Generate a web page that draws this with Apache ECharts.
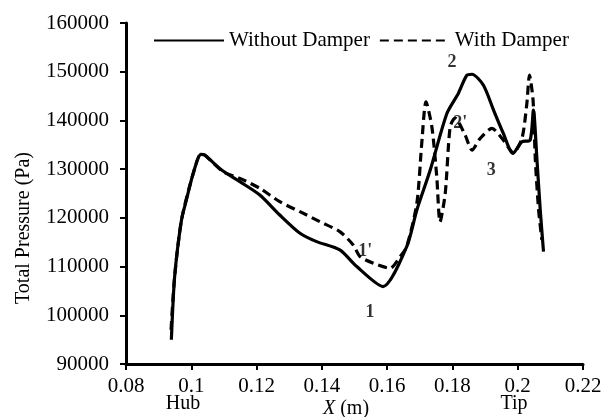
<!DOCTYPE html>
<html>
<head>
<meta charset="utf-8">
<script src="https://cdn.jsdelivr.net/npm/echarts@6/dist/echarts.min.js"></script>
<style>
html,body{margin:0;padding:0;background:#fff;}
#c{width:608px;height:417px;}
</style>
</head>
<body>
<div id="c"></div>
<script>
// Without Damper: [X (m), Total Pressure (Pa)]
const withoutDamper = [
  [0.0939, 94980], [0.0949, 107950], [0.0970, 119570], [0.0985, 123670], [0.1006, 129140],
  [0.1029, 133030], [0.1041, 132890], [0.1093, 129820], [0.1149, 127420], [0.1210, 124690],
  [0.1271, 120590], [0.1333, 116840], [0.1384, 115120], [0.1455, 113420], [0.1507, 110000],
  [0.1587, 105900], [0.1660, 114100], [0.1691, 121620], [0.1732, 129820], [0.1783, 141430],
  [0.1818, 145530], [0.1844, 149280], [0.1860, 149480], [0.1895, 147230], [0.1926, 142110],
  [0.1956, 137330], [0.1985, 133230], [0.2013, 135610], [0.2038, 135960], [0.2048, 142110],
  [0.2059, 131870], [0.2069, 121620], [0.2079, 113070]
];
// With Damper
const withDamper = [
  [0.0938, 97030], [0.0949, 107950], [0.0970, 119570], [0.1006, 129140], [0.1029, 133030],
  [0.1041, 132890], [0.1098, 129460], [0.1149, 128110], [0.1210, 126060], [0.1271, 123320],
  [0.1333, 121270], [0.1394, 119220], [0.1455, 117170], [0.1496, 114450], [0.1517, 112050],
  [0.1558, 110690], [0.1609, 109670], [0.1640, 112050], [0.1660, 114100], [0.1691, 122990],
  [0.1706, 135280], [0.1719, 143810], [0.1737, 138690], [0.1752, 128440], [0.1762, 119160],
  [0.1778, 125040], [0.1793, 138690], [0.1808, 140470], [0.1839, 136980], [0.1860, 133900],
  [0.1885, 136310], [0.1921, 138360], [0.1952, 136310], [0.1987, 133400], [0.2013, 136310],
  [0.2028, 143480], [0.2036, 149280], [0.2047, 144160], [0.2054, 131870], [0.2064, 121620],
  [0.2074, 115470]
];
// Point annotations [X, P, label]
const annotations = [
  [0.15475, 100510, '1'],
  [0.1533, 113220, "1'"],
  [0.1799, 151940, '2'],
  [0.1824, 139440, "2'"],
  [0.1919, 129810, '3']
];
const seriesNames = ['Without Damper', 'With Damper'];
const xTicks = {min: 0.08, max: 0.22, interval: 0.02};
const yTicks = {min: 90000, max: 160000, interval: 10000};

const FONT = '"Liberation Serif", "Times New Roman", serif';
const chart = echarts.init(document.getElementById('c'), null, {renderer: 'canvas'});
chart.setOption({
  animation: false,
  backgroundColor: '#fff',
  textStyle: {fontFamily: FONT, color: '#000'},
  grid: {left: 126, right: 25, top: 23, bottom: 53, containLabel: false},
  legend: {
    data: seriesNames,
    left: 148, top: 25,
    itemWidth: 70, itemHeight: 14, itemGap: 9,
    itemStyle: {opacity: 0},
    textStyle: {fontFamily: FONT, fontSize: 21, color: '#000'}
  },
  xAxis: {
    type: 'value', min: xTicks.min, max: xTicks.max, interval: xTicks.interval,
    axisLine: {show: true, onZero: false, lineStyle: {color: '#000', width: 3}},
    axisTick: {show: true, inside: false, length: 6, lineStyle: {color: '#000', width: 2}},
    axisLabel: {fontFamily: FONT, fontSize: 21, color: '#000', margin: 12,
      formatter: v => String(Math.round(v * 100) / 100)},
    splitLine: {show: false}
  },
  yAxis: {
    type: 'value', min: yTicks.min, max: yTicks.max, interval: yTicks.interval,
    axisLine: {show: true, onZero: false, lineStyle: {color: '#000', width: 3}},
    axisTick: {show: true, inside: false, length: 6, lineStyle: {color: '#000', width: 2}},
    axisLabel: {fontFamily: FONT, fontSize: 21, color: '#000', margin: 17,
      formatter: v => String(Math.round(v))},
    splitLine: {show: false}
  },
  series: [
    {
      name: seriesNames[0], type: 'line', data: withoutDamper, symbol: 'none', smooth: 0.25,
      lineStyle: {color: '#000', width: 3.2, type: 'solid'}, itemStyle: {color: '#000'}, z: 3
    },
    {
      name: seriesNames[1], type: 'line', data: withDamper, symbol: 'none', smooth: 0.25,
      lineStyle: {color: '#000', width: 3.2, type: [9, 5]}, itemStyle: {color: '#000'}, z: 2
    },
    {
      name: 'labels', type: 'scatter', data: annotations.map(a => ({value: [a[0], a[1]], name: a[2]})),
      symbolSize: 1, itemStyle: {color: 'rgba(0,0,0,0)'}, silent: true,
      label: {show: true, position: 'inside', formatter: p => p.name,
        fontFamily: FONT, fontSize: 18, fontWeight: 'bold', color: '#000'}
    }
  ],
  graphic: [
    {type: 'text', x: 24, y: 228, rotation: Math.PI / 2,
      style: {text: 'Total Pressure (Pa)', x: 0, y: 0, align: 'center', verticalAlign: 'middle',
        font: '20px ' + FONT, fill: '#000'}},
    {type: 'text', x: 346, y: 409,
      style: {rich: {i: {fontStyle: 'italic', fontSize: 20, fontFamily: FONT}, n: {fontSize: 20, fontFamily: FONT}},
        text: '{i|X}{n| (m)}', x: 0, y: 0, align: 'center', verticalAlign: 'middle', fill: '#000'}},
    {type: 'text', x: 183, y: 404,
      style: {text: 'Hub', x: 0, y: 0, align: 'center', verticalAlign: 'middle', font: '20px ' + FONT, fill: '#000'}},
    {type: 'text', x: 514, y: 404,
      style: {text: 'Tip', x: 0, y: 0, align: 'center', verticalAlign: 'middle', font: '20px ' + FONT, fill: '#000'}}
  ]
});
</script>
</body>
</html>
